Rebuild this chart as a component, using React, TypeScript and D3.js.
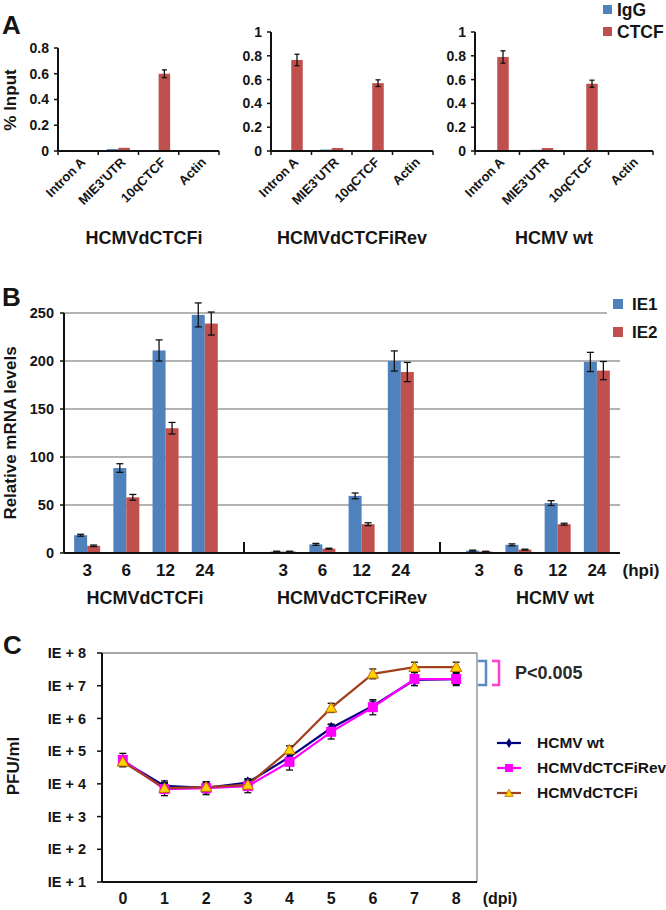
import React from "react";
import * as d3 from "d3";

// ---------- Panel A data (ChIP, % input) ----------
const chipTargets = ["Intron A", "MIE3'UTR", "10qCTCF", "Actin"];
const chipViruses = ["HCMVdCTCFi", "HCMVdCTCFiRev", "HCMV wt"];
const chipSeries = ["IgG", "CTCF"];
const igg_dCTCFi = [0.004, 0.015, 0.002, 0.003];
const iggErr_dCTCFi = [0.001, 0.002, 0.001, 0.001];
const ctcf_dCTCFi = [0.005, 0.025, 0.6, 0.004];
const ctcfErr_dCTCFi = [0.001, 0.003, 0.03, 0.001];
const igg_rev = [0.002, 0.012, 0.002, 0.001];
const iggErr_rev = [0.001, 0.001, 0.001, 0.0];
const ctcf_rev = [0.765, 0.025, 0.57, 0.002];
const ctcfErr_rev = [0.048, 0.003, 0.028, 0.0];
const igg_wt = [0.002, 0.01, 0.002, 0.001];
const iggErr_wt = [0.001, 0.001, 0.001, 0.0];
const ctcf_wt = [0.79, 0.025, 0.565, 0.002];
const ctcfErr_wt = [0.052, 0.003, 0.03, 0.0];
const chipTicksA1 = [0, 0.2, 0.4, 0.6, 0.8];
const chipTicksA2 = [0, 0.2, 0.4, 0.6, 0.8, 1];

// ---------- Panel B data (relative mRNA) ----------
const hpi = ["3", "6", "12", "24"];
const mrnaGroups = ["HCMVdCTCFi", "HCMVdCTCFiRev", "HCMV wt"];
const mrnaSeries = ["IE1", "IE2"];
const ie1_dCTCFi = [18.5, 88.5, 211, 248];
const ie1Err_dCTCFi = [1, 4.5, 11, 12.5];
const ie2_dCTCFi = [7.5, 58, 130, 239];
const ie2Err_dCTCFi = [0.8, 3, 6, 12];
const ie1_rev = [1.5, 9, 59.5, 200];
const ie1Err_rev = [0.4, 1, 3, 10.5];
const ie2_rev = [1.5, 4.5, 30, 188.5];
const ie2Err_rev = [0.4, 0.5, 1.5, 10];
const ie1_wt = [2.5, 8.5, 52, 199];
const ie1Err_wt = [0.5, 1, 2.5, 10];
const ie2_wt = [1.5, 3.5, 30, 190];
const ie2Err_wt = [0.3, 0.5, 1, 9.5];
const mrnaTicks = [0, 50, 100, 150, 200, 250];

// ---------- Panel C data (growth curve, PFU/ml) ----------
const dpi = [0, 1, 2, 3, 4, 5, 6, 7, 8];
const growthSeries = ["HCMV wt", "HCMVdCTCFiRev", "HCMVdCTCFi"];
const pfu_wt = [5e4, 8.7e3, 7.5e3, 1.1e4, 6.6e4, 5.1e5, 2.4e6, 1.5e7, 1.6e7];
const logErr_wt = [0.12, 0.15, 0.15, 0.12, 0.15, 0.12, 0.15, 0.17, 0.17];
const pfu_rev = [5.4e4, 6.9e3, 7.4e3, 8.5e3, 4.7e4, 3.9e5, 2.2e6, 1.6e7, 1.6e7];
const logErr_rev = [0.2, 0.2, 0.2, 0.2, 0.25, 0.22, 0.23, 0.2, 0.2];
const pfu_dCTCFi = [4.7e4, 7.4e3, 8e3, 9.3e3, 1.1e5, 2.1e6, 2.3e7, 3.7e7, 3.7e7];
const logErr_dCTCFi = [0.15, 0.15, 0.15, 0.12, 0.12, 0.14, 0.15, 0.15, 0.15];
const pfuTickValues = [1e1, 1e2, 1e3, 1e4, 1e5, 1e6, 1e7, 1e8];
const pfuTickLabels = ["IE + 1", "IE + 2", "IE + 3", "IE + 4", "IE + 5", "IE + 6", "IE + 7", "IE + 8"];

// ---------- styles ----------
const FONT = "'Liberation Sans', Arial, Helvetica, sans-serif";
const BLUE = "#4F81BD";
const RED = "#C0504D";
const TXT = "#151515";

function ErrBar({ x, y1, y2, w = 6, sw = 1.3 }: { x: number; y1: number; y2: number; w?: number; sw?: number }) {
  return (
    <g stroke="#111" strokeWidth={sw} fill="none">
      <line x1={x} x2={x} y1={y1} y2={y2} />
      <line x1={x - w / 2} x2={x + w / 2} y1={y1} y2={y1} />
      <line x1={x - w / 2} x2={x + w / 2} y1={y2} y2={y2} />
    </g>
  );
}

type ChipProps = {
  x0: number; x1: number; yTop: number; yMax: number; ticks: number[];
  igg: number[]; iggErr: number[]; ctcf: number[]; ctcfErr: number[];
  title: string; titleX: number;
};

function ChipPanel(p: ChipProps) {
  const yBottom = 151;
  const y = d3.scaleLinear().domain([0, p.yMax]).range([yBottom, p.yTop]);
  const x = d3.scaleBand<string>().domain(chipTargets).range([p.x0, p.x1]);
  const bw = 11.5;
  return (
    <g>
      {chipTargets.map((c, i) => {
        const cx = (x(c) as number) + x.bandwidth() / 2;
        return (
          <g key={c}>
            <rect x={cx - bw} y={y(p.igg[i])} width={bw} height={yBottom - y(p.igg[i])} fill={BLUE} />
            <rect x={cx} y={y(p.ctcf[i])} width={bw} height={yBottom - y(p.ctcf[i])} fill={RED} />
            {p.ctcf[i] > 0.1 && (
              <ErrBar x={cx + bw / 2} y1={y(p.ctcf[i] + p.ctcfErr[i])} y2={y(p.ctcf[i] - p.ctcfErr[i])} w={5} />
            )}
            <text
              transform={`translate(${cx + 8},${yBottom + 12}) rotate(-45)`}
              textAnchor="end"
              fontSize={13}
              fontWeight="bold"
              fill={TXT}
              fontFamily={FONT}
            >
              {c}
            </text>
          </g>
        );
      })}
      {/* axes */}
      <line x1={p.x0} x2={p.x0} y1={p.yTop} y2={yBottom} stroke="#111" strokeWidth={2} />
      <line x1={p.x0} x2={p.x1} y1={yBottom} y2={yBottom} stroke="#111" strokeWidth={2} />
      {chipTargets.concat(["end"]).map((c, i) => {
        const bx = p.x0 + i * x.bandwidth();
        return <line key={"xt" + i} x1={bx} x2={bx} y1={yBottom} y2={yBottom + 4} stroke="#111" strokeWidth={1.5} />;
      })}
      {p.ticks.map((t) => (
        <g key={t}>
          <line x1={p.x0 - 4} x2={p.x0} y1={y(t)} y2={y(t)} stroke="#111" strokeWidth={1.5} />
          <text x={p.x0 - 9} y={y(t)} dy="0.35em" textAnchor="end" fontSize={14} fontWeight="bold" fill={TXT} fontFamily={FONT}>
            {String(t)}
          </text>
        </g>
      ))}
      <text x={p.titleX} y={238} dy="0.35em" textAnchor="middle" fontSize={18} fontWeight="bold" fill={TXT} fontFamily={FONT}>
        {p.title}
      </text>
    </g>
  );
}

function PanelB() {
  const y = d3.scaleLinear().domain([0, 250]).range([553, 313]);
  const slots: string[] = [];
  mrnaGroups.forEach((g, gi) => {
    hpi.forEach((h) => slots.push(g + "|" + h));
    if (gi < mrnaGroups.length - 1) slots.push("sep" + gi);
  });
  const x = d3.scalePoint<string>().domain(slots).range([64, 620]).padding(0.59);
  const ie1 = [ie1_dCTCFi, ie1_rev, ie1_wt];
  const ie1e = [ie1Err_dCTCFi, ie1Err_rev, ie1Err_wt];
  const ie2 = [ie2_dCTCFi, ie2_rev, ie2_wt];
  const ie2e = [ie2Err_dCTCFi, ie2Err_rev, ie2Err_wt];
  const titleXs = [145, 352, 555];
  const bw = 13;
  return (
    <g>
      {mrnaTicks.filter((t) => t > 0).map((t) => (
        <line key={"g" + t} x1={64} x2={t === 250 ? 607 : 620} y1={y(t)} y2={y(t)} stroke="#9a9a9a" strokeWidth={1.3} />
      ))}
      {mrnaGroups.map((g, gi) =>
        hpi.map((h, hi) => {
          const cx = x(g + "|" + h) as number;
          const v1 = ie1[gi][hi];
          const v2 = ie2[gi][hi];
          return (
            <g key={g + h}>
              <rect x={cx - bw} y={y(v1)} width={bw} height={553 - y(v1)} fill={BLUE} />
              <rect x={cx} y={y(v2)} width={bw} height={553 - y(v2)} fill={RED} />
              <ErrBar x={cx - bw / 2} y1={y(v1 + ie1e[gi][hi])} y2={y(v1 - ie1e[gi][hi])} w={7} />
              <ErrBar x={cx + bw / 2} y1={y(v2 + ie2e[gi][hi])} y2={y(v2 - ie2e[gi][hi])} w={7} />
              <text x={cx} y={570} dy="0.35em" textAnchor="middle" fontSize={17} fontWeight="bold" fill={TXT} fontFamily={FONT}>
                {h}
              </text>
            </g>
          );
        })
      )}
      {["sep0", "sep1"].map((s) => (
        <line key={s} x1={x(s) as number} x2={x(s) as number} y1={542} y2={553} stroke="#111" strokeWidth={2} />
      ))}
      <line x1={64} x2={64} y1={313} y2={553} stroke="#111" strokeWidth={2} />
      <line x1={64} x2={620} y1={553} y2={553} stroke="#111" strokeWidth={2.2} />
      {mrnaTicks.map((t) => (
        <g key={"t" + t}>
          <line x1={60} x2={64} y1={y(t)} y2={y(t)} stroke="#111" strokeWidth={1.5} />
          <text x={54} y={y(t)} dy="0.35em" textAnchor="end" fontSize={14.5} fontWeight="bold" fill={TXT} fontFamily={FONT}>
            {String(t)}
          </text>
        </g>
      ))}
      <text x={641} y={570} dy="0.35em" textAnchor="middle" fontSize={17} fontWeight="bold" fill={TXT} fontFamily={FONT}>
        (hpi)
      </text>
      {mrnaGroups.map((g, gi) => (
        <text key={"tt" + g} x={titleXs[gi]} y={598} dy="0.35em" textAnchor="middle" fontSize={18} fontWeight="bold" fill={TXT} fontFamily={FONT}>
          {g}
        </text>
      ))}
      <text transform="translate(16,433) rotate(-90)" textAnchor="middle" fontSize={17} fontWeight="bold" fill={TXT} fontFamily={FONT}>
        Relative mRNA levels
      </text>
      {mrnaSeries.map((s, i) => (
        <g key={s}>
          <rect x={613} y={299 + i * 28} width={10} height={10} fill={i === 0 ? BLUE : RED} />
          <text x={632} y={304 + i * 28} dy="0.35em" fontSize={17} fontWeight="bold" fill={TXT} fontFamily={FONT}>
            {s}
          </text>
        </g>
      ))}
    </g>
  );
}

function PanelC() {
  const y = d3.scaleLog().domain([1e1, 1e8]).range([882, 653]);
  const x = d3.scalePoint<number>().domain(dpi).range([102, 477]).padding(0.5);
  const series = [
    { name: growthSeries[0], vals: pfu_wt, err: logErr_wt, color: "#000080" },
    { name: growthSeries[1], vals: pfu_rev, err: logErr_rev, color: "#FF00FF" },
    { name: growthSeries[2], vals: pfu_dCTCFi, err: logErr_dCTCFi, color: "#A0401C" },
  ];
  const line = d3
    .line<number>()
    .x((_, i) => x(dpi[i]) as number)
    .y((v) => y(v));
  const marker = (si: number, cx: number, cy: number, key: string) => {
    if (si === 0) {
      const p = d3.symbol(d3.symbolDiamond, 45)() as string;
      return <path key={key} d={p} transform={`translate(${cx},${cy})`} fill="#000080" />;
    }
    if (si === 1) {
      return <rect key={key} x={cx - 5} y={cy - 5} width={10} height={10} fill="#FF00FF" />;
    }
    const p = d3.symbol(d3.symbolTriangle, 55)() as string;
    return <path key={key} d={p} transform={`translate(${cx},${cy + 1})`} fill="#FFD200" stroke="#C06A00" strokeWidth={1} />;
  };
  return (
    <g>
      <line x1={102} x2={477} y1={653} y2={653} stroke="#8a8a8a" strokeWidth={1.3} />
      <line x1={477} x2={477} y1={653} y2={882} stroke="#8a8a8a" strokeWidth={1.3} />
      {series.map((s) => (
        <path key={"l" + s.name} d={line(s.vals) as string} fill="none" stroke={s.color} strokeWidth={2.2} />
      ))}
      {series.map((s) =>
        s.vals.map((v, i) => (
          <ErrBar
            key={"e" + s.name + i}
            x={x(dpi[i]) as number}
            y1={y(v * Math.pow(10, s.err[i]))}
            y2={y(v / Math.pow(10, s.err[i]))}
            w={7}
          />
        ))
      )}
      {series.map((s, si) => s.vals.map((v, i) => marker(si, x(dpi[i]) as number, y(v), "m" + si + "-" + i)))}
      <line x1={102} x2={102} y1={653} y2={882} stroke="#111" strokeWidth={2} />
      <line x1={102} x2={477} y1={882} y2={882} stroke="#111" strokeWidth={2} />
      {pfuTickValues.map((t, i) => (
        <g key={"yt" + i}>
          <line x1={97} x2={102} y1={y(t)} y2={y(t)} stroke="#111" strokeWidth={1.5} />
          <text x={86} y={y(t)} dy="0.35em" textAnchor="end" fontSize={14.5} fontWeight="bold" fill={TXT} fontFamily={FONT}>
            {pfuTickLabels[i]}
          </text>
        </g>
      ))}
      {dpi.map((d) => (
        <text key={"xl" + d} x={x(d) as number} y={898} dy="0.35em" textAnchor="middle" fontSize={16} fontWeight="bold" fill={TXT} fontFamily={FONT}>
          {String(d)}
        </text>
      ))}
      <text x={500} y={898} dy="0.35em" textAnchor="middle" fontSize={16} fontWeight="bold" fill={TXT} fontFamily={FONT}>
        (dpi)
      </text>
      <text transform="translate(19,766) rotate(-90)" textAnchor="middle" fontSize={17} fontWeight="bold" fill={TXT} fontFamily={FONT}>
        PFU/ml
      </text>
      {/* significance brackets */}
      <path d="M478,661 H486 V685 H478" fill="none" stroke="#5A8AC6" strokeWidth={2.5} />
      <path d="M492,661 H499 V685 H492" fill="none" stroke="#FF3FD0" strokeWidth={2.5} />
      <text x={515} y={673} dy="0.35em" fontSize={18} fontWeight="bold" fill="#2a2a2a" fontFamily={FONT}>
        P&lt;0.005
      </text>
      {/* legend */}
      {series.map((s, si) => (
        <g key={"lg" + si}>
          <line x1={497} x2={521} y1={743 + si * 25} y2={743 + si * 25} stroke={s.color} strokeWidth={2.2} />
          {si === 0 && (
            <path d={d3.symbol(d3.symbolDiamond, 30)() as string} transform={`translate(509,743)`} fill="#000080" />
          )}
          {si === 1 && <rect x={505} y={764} width={8} height={8} fill="#FF00FF" />}
          {si === 2 && (
            <path d={d3.symbol(d3.symbolTriangle, 30)() as string} transform={`translate(509,794)`} fill="#FFD200" stroke="#C06A00" strokeWidth={0.8} />
          )}
          <text x={537} y={743 + si * 25} dy="0.35em" fontSize={15.5} fontWeight="bold" fill={TXT} fontFamily={FONT}>
            {s.name}
          </text>
        </g>
      ))}
    </g>
  );
}

export default function App() {
  const aLayouts = [
    { x0: 58, x1: 219, yTop: 48, yMax: 0.8, ticks: chipTicksA1, titleX: 144, igg: igg_dCTCFi, iggErr: iggErr_dCTCFi, ctcf: ctcf_dCTCFi, ctcfErr: ctcfErr_dCTCFi },
    { x0: 271, x1: 433, yTop: 32, yMax: 1, ticks: chipTicksA2, titleX: 352, igg: igg_rev, iggErr: iggErr_rev, ctcf: ctcf_rev, ctcfErr: ctcfErr_rev },
    { x0: 475, x1: 653, yTop: 32, yMax: 1, ticks: chipTicksA2, titleX: 554, igg: igg_wt, iggErr: iggErr_wt, ctcf: ctcf_wt, ctcfErr: ctcfErr_wt },
  ];
  return (
    <div style={{ position: "absolute", left: 0, top: 0 }}>
      <svg width={666} height={910} viewBox="0 0 666 910" style={{ display: "block", background: "#fff" }}>
        <rect width={666} height={910} fill="#fff" />
        {/* Panel letters */}
        <text x={2} y={34} fontSize={26} fontWeight="bold" fill={TXT} fontFamily={FONT}>A</text>
        <text x={2} y={306} fontSize={26} fontWeight="bold" fill={TXT} fontFamily={FONT}>B</text>
        <text x={3} y={654} fontSize={26} fontWeight="bold" fill={TXT} fontFamily={FONT}>C</text>
        {/* Panel A */}
        {aLayouts.map((l, i) => (
          <ChipPanel key={i} {...l} title={chipViruses[i]} />
        ))}
        <text transform="translate(16,100) rotate(-90)" textAnchor="middle" fontSize={17} fontWeight="bold" fill={TXT} fontFamily={FONT}>
          % Input
        </text>
        {chipSeries.map((s, i) => (
          <g key={s}>
            <rect x={603} y={5 + i * 22} width={9} height={9} fill={i === 0 ? BLUE : RED} />
            <text x={617} y={10 + i * 22} dy="0.35em" fontSize={17.5} fontWeight="bold" fill={TXT} fontFamily={FONT}>
              {s}
            </text>
          </g>
        ))}
        <PanelB />
        <PanelC />
      </svg>
    </div>
  );
}
